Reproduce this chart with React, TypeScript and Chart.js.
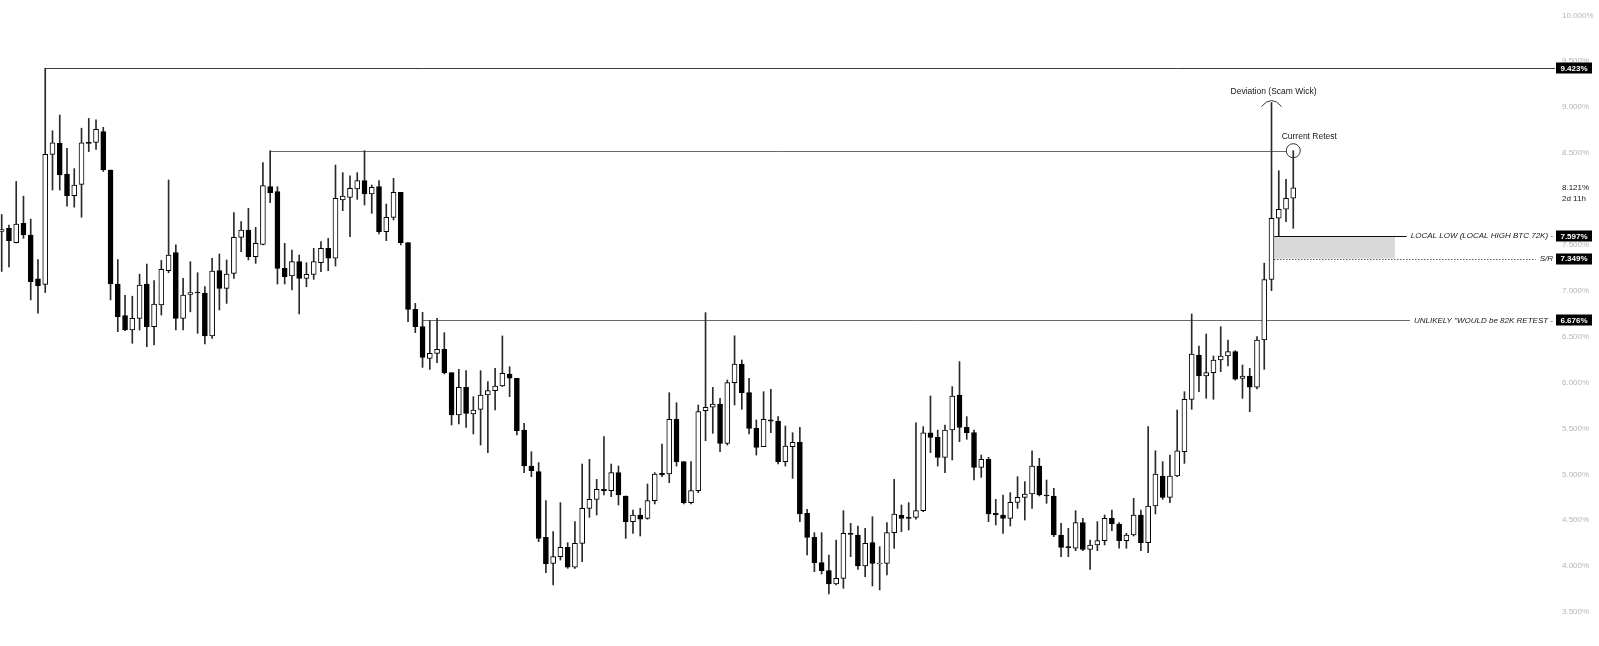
import { useEffect, useRef } from 'react';
import { Chart, registerables } from 'chart.js';

Chart.register(...registerables);

// ---- OHLC data (values in %) ----
const opens = [
  7.645, 7.68, 7.523, 7.734, 7.607, 7.13, 7.069, 8.485, 8.605, 8.27,
  8.035, 8.158, 8.615, 8.616, 8.732, 8.315, 7.073, 6.728, 6.572, 6.699,
  7.073, 6.608, 6.844, 7.218, 7.414, 6.699, 6.96, 6.985, 6.971, 6.507,
  7.218, 7.026, 7.189, 7.581, 7.661, 7.371, 7.505, 8.133, 8.079, 7.244,
  7.16, 7.316, 7.135, 7.178, 7.305, 7.462, 7.353, 7.988, 8.017, 8.108,
  8.199, 8.053, 8.133, 7.643, 7.799, 8.072, 7.523, 6.797, 6.608, 6.263,
  6.318, 6.361, 6.107, 5.646, 5.947, 5.657, 5.708, 5.864, 5.911, 5.962,
  6.093, 6.046, 5.483, 5.09, 5.029, 4.313, 4.03, 4.103, 4.204, 3.987,
  4.248, 4.629, 4.727, 4.836, 4.822, 5.018, 4.764, 4.484, 4.557, 4.52,
  4.713, 5.01, 5.003, 5.599, 5.138, 4.691, 4.822, 5.693, 5.73, 5.766,
  5.337, 5.998, 6.202, 5.889, 5.501, 5.301, 5.592, 5.581, 5.138, 5.301,
  5.348, 4.575, 4.313, 4.037, 3.95, 3.805, 3.867, 4.357, 4.339, 4.001,
  4.255, 4.023, 4.03, 4.364, 4.557, 4.531, 4.531, 4.604, 5.453, 5.403,
  5.185, 5.483, 5.864, 5.512, 5.454, 5.076, 5.163, 4.575, 4.557, 4.52,
  4.695, 4.749, 4.785, 5.09, 4.775, 4.764, 4.339, 4.212, 4.194, 4.473,
  4.183, 4.23, 4.277, 4.52, 4.459, 4.277, 4.339, 4.557, 4.255, 4.655,
  4.981, 4.749, 4.981, 5.247, 5.817, 6.3, 6.071, 6.107, 6.245, 6.289,
  6.336, 6.045, 6.071, 5.948, 6.463, 7.124, 7.789, 7.887, 8.007,
];
const highs = [
  7.83, 7.715, 8.19, 8.03, 7.78, 7.34, 9.423, 8.743, 8.914, 8.55,
  8.33, 8.77, 8.877, 8.86, 8.78, 8.315, 7.34, 6.95, 6.94, 7.18,
  7.29, 7.11, 7.33, 8.206, 7.5, 7.135, 7.316, 7.196, 7.044, 7.353,
  7.4, 7.335, 7.85, 7.752, 7.897, 7.69, 8.395, 8.525, 8.133, 7.516,
  7.443, 7.389, 7.305, 7.462, 7.534, 7.57, 8.369, 8.286, 8.25, 8.286,
  8.525, 8.151, 8.2, 7.944, 8.224, 8.072, 7.523, 6.862, 6.764, 6.674,
  6.699, 6.543, 6.107, 6.143, 6.129, 5.846, 6.129, 6.009, 6.154, 6.507,
  6.172, 6.046, 5.555, 5.246, 5.127, 4.713, 4.375, 4.691, 4.255, 4.484,
  5.112, 5.163, 4.945, 5.41, 5.112, 5.09, 4.764, 4.611, 4.629, 4.894,
  5.018, 5.33, 5.889, 5.78, 5.138, 5.138, 5.755, 6.761, 5.947, 5.827,
  6.027, 6.509, 6.245, 6.045, 5.592, 5.9, 5.925, 5.628, 5.526, 5.453,
  5.512, 4.618, 4.364, 4.364, 4.121, 4.284, 4.604, 4.466, 4.437, 4.411,
  4.538, 4.212, 4.473, 4.945, 4.666, 4.691, 5.562, 5.519, 5.853, 5.482,
  5.537, 5.955, 6.227, 5.628, 5.483, 5.21, 5.185, 4.727, 4.775, 4.8,
  4.974, 4.92, 5.257, 5.174, 4.938, 4.847, 4.466, 4.411, 4.604, 4.52,
  4.284, 4.484, 4.557, 4.611, 4.473, 4.357, 4.738, 4.611, 5.519, 5.257,
  5.138, 5.21, 5.7, 5.9, 6.746, 6.398, 6.528, 6.289, 6.608, 6.463,
  6.347, 6.191, 6.154, 6.5, 7.3, 9.05, 8.307, 8.213, 8.525,
];
const lows = [
  7.21, 7.26, 7.52, 7.57, 6.9, 6.754, 6.98, 8.097, 8.097, 7.92,
  7.91, 7.8, 8.515, 8.54, 8.3, 6.9, 6.554, 6.565, 6.427, 6.572,
  6.39, 6.41, 6.735, 7.196, 6.572, 6.572, 6.77, 6.535, 6.419, 6.481,
  6.79, 6.862, 7.135, 7.425, 7.335, 7.298, 7.498, 7.959, 7.073, 7.073,
  7.008, 6.746, 7.044, 7.124, 7.207, 7.218, 7.269, 7.872, 7.589, 7.995,
  7.934, 7.843, 7.618, 7.545, 7.77, 7.498, 6.663, 6.543, 6.165, 6.143,
  6.216, 6.093, 5.537, 5.548, 5.512, 5.439, 5.319, 5.236, 5.7, 5.955,
  5.846, 5.428, 5.018, 4.974, 4.266, 3.928, 3.794, 4.066, 3.976, 3.976,
  4.048, 4.531, 4.557, 4.775, 4.756, 4.666, 4.302, 4.357, 4.328, 4.51,
  4.677, 4.974, 4.909, 5.09, 4.677, 4.677, 4.8, 5.366, 5.446, 5.247,
  5.319, 5.755, 5.708, 5.439, 5.21, 5.301, 5.453, 5.112, 5.09, 4.956,
  4.484, 4.121, 3.939, 3.914, 3.696, 3.794, 3.758, 4.103, 3.965, 3.885,
  3.783, 3.74, 3.903, 4.193, 4.375, 4.393, 4.51, 4.593, 5.236, 5.09,
  5.018, 5.156, 5.355, 5.381, 4.938, 4.967, 4.484, 4.448, 4.357, 4.437,
  4.629, 4.502, 4.629, 4.764, 4.684, 4.321, 4.103, 4.103, 4.168, 4.168,
  3.965, 4.168, 4.23, 4.386, 4.194, 4.194, 4.328, 4.168, 4.146, 4.568,
  4.727, 4.691, 4.974, 5.119, 5.708, 5.9, 5.828, 5.817, 6.118, 6.18,
  6.027, 5.828, 5.682, 5.93, 6.143, 7.0, 7.596, 7.752, 7.68,
];
const closes = [
  7.665, 7.545, 7.727, 7.607, 7.098, 7.055, 8.485, 8.612, 8.26, 8.035,
  8.151, 8.612, 8.605, 8.758, 8.315, 7.073, 6.717, 6.572, 6.699, 7.062,
  6.608, 6.855, 7.233, 7.389, 6.699, 6.953, 6.98, 6.975, 6.507, 7.215,
  7.026, 7.182, 7.581, 7.661, 7.371, 7.516, 8.144, 8.068, 7.244, 7.153,
  7.316, 7.135, 7.178, 7.316, 7.462, 7.353, 8.006, 8.032, 8.115, 8.199,
  8.053, 8.126, 7.643, 7.799, 8.072, 7.523, 6.797, 6.608, 6.274, 6.318,
  6.361, 6.107, 5.646, 5.947, 5.664, 5.7, 5.864, 5.911, 5.962, 6.1,
  6.046, 5.475, 5.09, 5.04, 4.302, 4.023, 4.103, 4.204, 3.987, 4.248,
  4.629, 4.727, 4.836, 4.822, 5.018, 4.775, 4.484, 4.557, 4.51, 4.713,
  5.003, 4.992, 5.599, 5.138, 4.691, 4.822, 5.682, 5.73, 5.766, 5.337,
  5.998, 6.202, 5.889, 5.501, 5.294, 5.599, 5.58, 5.138, 5.308, 5.348,
  4.568, 4.313, 4.037, 3.95, 3.805, 3.867, 4.357, 4.345, 4.001, 4.248,
  4.03, 4.033, 4.364, 4.568, 4.52, 4.52, 4.604, 5.453, 5.403, 5.185,
  5.483, 5.853, 5.512, 5.454, 5.076, 5.163, 4.568, 4.557, 4.52, 4.695,
  4.749, 4.785, 5.09, 4.775, 4.764, 4.339, 4.204, 4.2, 4.473, 4.183,
  4.23, 4.277, 4.52, 4.459, 4.277, 4.339, 4.557, 4.255, 4.655, 5.003,
  4.749, 4.981, 5.257, 5.817, 6.31, 6.071, 6.107, 6.245, 6.289, 6.336,
  6.035, 6.071, 5.948, 6.463, 7.12, 7.789, 7.887, 8.007, 8.121,
];

// ---- axis / annotation values ----
const yTickValues = [3.5, 4, 4.5, 5, 5.5, 6, 6.5, 7, 7.5, 8, 8.5, 9, 9.5, 10];
const hiddenTickValues = [8];
const levelValues = [9.423, 8.525, 7.597, 7.349, 6.676];
const levelStartIndex = [6, 37, 175.39, 175.39, 58];
const levelNotes = ['', '', 'LOCAL LOW (LOCAL HIGH BTC 72K) -', 'S/R', 'UNLIKELY "WOULD be 82K RETEST -'];
const levelTags = ['9.423%', '', '7.597%', '7.349%', '6.676%'];
const zoneValues = [7.349, 7.597];
const zoneIndexRange = [175.39, 192.02];
const deviationIndex = 175;
const deviationText = 'Deviation (Scam Wick)';
const retestIndex = 178;
const retestValue = 8.525;
const retestText = 'Current Retest';
const lastPriceLabel = ['8.121%', '2d 11h'];

// y-scale geometry: value 10 sits 15.3px from the top, 91.8px per 1%
const Y_TOP_VALUE = 10;
const Y_TOP_OFFSET = 15.3;
const Y_PX_PER_UNIT = 91.8;

const FONT = "'Liberation Sans', Arial, sans-serif";

const annotationPlugin = {
  id: 'annotations',
  beforeDatasetsDraw(chart: any) {
    const { ctx, chartArea: ca } = chart;
    const x = chart.scales.x;
    const y = chart.scales.y;
    ctx.save();
    const zx0 = x.getPixelForValue(zoneIndexRange[0]);
    const zx1 = x.getPixelForValue(zoneIndexRange[1]);
    const zyT = y.getPixelForValue(zoneValues[1]);
    const zyB = y.getPixelForValue(zoneValues[0]);
    ctx.fillStyle = '#d9d9d9';
    ctx.fillRect(zx0, zyT, zx1 - zx0, zyB - zyT);
    ctx.font = `italic 8px ${FONT}`;
    const noteRight = ca.right - 2;
    const circleR = 7;
    levelValues.forEach((lv, k) => {
      const py = Math.round(y.getPixelForValue(lv)) + 0.5;
      const x0 = x.getPixelForValue(levelStartIndex[k]);
      let x1 = ca.right;
      if (levelNotes[k]) x1 = noteRight - ctx.measureText(levelNotes[k]).width - 4;
      if (k === 1) x1 = x.getPixelForValue(retestIndex) - circleR;
      ctx.beginPath();
      ctx.setLineDash(k === 3 ? [1, 2] : []);
      ctx.strokeStyle = k === 0 ? '#3a3a3a' : k === 2 || k === 3 ? '#111' : '#6a6a6a';
      ctx.lineWidth = 1;
      ctx.moveTo(x0, py);
      ctx.lineTo(x1, py);
      ctx.stroke();
    });
    ctx.restore();
  },
  afterDraw(chart: any) {
    const { ctx, chartArea: ca } = chart;
    const x = chart.scales.x;
    const y = chart.scales.y;
    ctx.save();
    ctx.font = `italic 8px ${FONT}`;
    ctx.fillStyle = '#131722';
    ctx.textAlign = 'right';
    ctx.textBaseline = 'middle';
    levelValues.forEach((lv, k) => {
      if (!levelNotes[k]) return;
      ctx.fillText(levelNotes[k], ca.right - 2, y.getPixelForValue(lv));
    });
    levelValues.forEach((lv, k) => {
      if (!levelTags[k]) return;
      const py = y.getPixelForValue(lv);
      ctx.fillStyle = '#000';
      ctx.fillRect(ca.right + 1, Math.round(py) - 5.5, 36, 11);
      ctx.fillStyle = '#fff';
      ctx.font = `bold 8px ${FONT}`;
      ctx.textAlign = 'center';
      ctx.fillText(levelTags[k], ca.right + 19, py + 0.5);
    });
    const lastY = y.getPixelForValue(closes[closes.length - 1]);
    ctx.fillStyle = '#131722';
    ctx.font = `8px ${FONT}`;
    ctx.textAlign = 'left';
    ctx.fillText(lastPriceLabel[0], ca.right + 7, lastY);
    ctx.fillText(lastPriceLabel[1], ca.right + 7, lastY + 11);
    const dx = x.getPixelForValue(deviationIndex);
    const dy = y.getPixelForValue(highs[deviationIndex]);
    ctx.strokeStyle = '#333';
    ctx.lineWidth = 1;
    ctx.beginPath();
    ctx.moveTo(dx - 10, dy + 4);
    ctx.quadraticCurveTo(dx, dy - 8, dx + 10, dy + 4);
    ctx.stroke();
    ctx.font = `8.5px ${FONT}`;
    ctx.textAlign = 'center';
    ctx.fillStyle = '#131722';
    ctx.fillText(deviationText, dx + 2, dy - 11);
    const rx = x.getPixelForValue(retestIndex);
    const ry = y.getPixelForValue(retestValue);
    ctx.beginPath();
    ctx.arc(rx, ry, 7, 0, Math.PI * 2);
    ctx.stroke();
    ctx.fillText(retestText, rx + 16, ry - 14);
    ctx.restore();
  },
};

export default function App() {
  const ref = useRef<HTMLCanvasElement>(null);
  useEffect(() => {
    document.body.style.margin = '0';
    const idx = opens.map((_, i) => i);
    const bodies = idx.map((i) => ({ x: i, y: [Math.min(opens[i], closes[i]), Math.max(opens[i], closes[i])] }));
    const wicks = idx.map((i) => ({ x: i, y: [lows[i], highs[i]] }));
    const chart = new Chart(ref.current as HTMLCanvasElement, {
      type: 'bar',
      data: {
        datasets: [
          {
            label: 'body',
            data: bodies as any,
            backgroundColor: idx.map((i) => (closes[i] >= opens[i] ? '#ffffff' : '#000000')),
            borderColor: '#000000',
            borderWidth: 1,
            borderSkipped: false,
            barThickness: 5,
            minBarLength: 1,
            grouped: false,
            order: 0,
          } as any,
          {
            label: 'wick',
            data: wicks as any,
            backgroundColor: '#2a2a2a',
            borderWidth: 0,
            barThickness: 1,
            grouped: false,
            order: 1,
          } as any,
        ],
      },
      options: {
        responsive: false,
        animation: false,
        events: [],
        layout: { padding: 0, autoPadding: false },
        plugins: { legend: { display: false }, tooltip: { enabled: false } },
        scales: {
          x: {
            type: 'linear',
            display: false,
            offset: false,
            min: -0.2343,
            max: 214.07,
          },
          y: {
            type: 'linear',
            position: 'right',
            min: 3.13,
            max: 10.1667,
            beginAtZero: false,
            grid: { display: false, drawTicks: false },
            border: { display: false },
            afterFit: (s: any) => {
              s.width = 44;
              s.paddingTop = 0;
              s.paddingBottom = 0;
            },
            afterBuildTicks: (s: any) => {
              s.ticks = yTickValues.map((v) => ({ value: v }));
            },
            ticks: {
              padding: 7,
              color: '#b5b5b5',
              font: { size: 8, family: FONT },
              callback: (v: any) => (hiddenTickValues.includes(Number(v)) ? '' : Number(v).toFixed(3) + '%'),
            },
          },
        },
      } as any,
      plugins: [annotationPlugin],
    });
    // calibrate the value range to the actual plot height
    const ca = chart.chartArea;
    const yMax = Y_TOP_VALUE + (Y_TOP_OFFSET - ca.top) / Y_PX_PER_UNIT;
    const yMin = yMax - (ca.bottom - ca.top) / Y_PX_PER_UNIT;
    (chart.options as any).scales.y.min = yMin;
    (chart.options as any).scales.y.max = yMax;
    chart.update();
    return () => chart.destroy();
  }, []);
  return (
    <div style={{ width: 1599, height: 646, position: 'relative', background: '#fff' }}>
      <canvas ref={ref} width={1599} height={646} style={{ display: 'block' }} />
    </div>
  );
}
